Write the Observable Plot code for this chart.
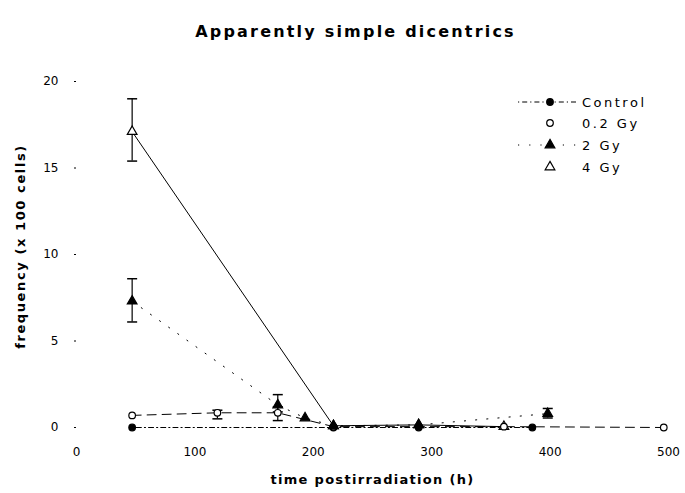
<!DOCTYPE html>
<html>
<head>
<meta charset="utf-8">
<script src="https://cdn.jsdelivr.net/npm/d3@7"></script>
<script src="https://cdn.jsdelivr.net/npm/@observablehq/plot@0.6"></script>
<style>
  html, body { margin: 0; padding: 0; background: #fff; }
  #wrap { position: relative; width: 685px; height: 493px; font-family: "DejaVu Sans", Arial, sans-serif; }
  #legend { position: absolute; left: 0; top: 0; pointer-events: none; }
</style>
</head>
<body>
<div id="wrap"></div>
<script>
// ---- data ----
const title = "Apparently simple dicentrics";
const xLabel = "time postirradiation (h)";
const yLabel = "frequency (x 100 cells)";
const xTicks = [0, 100, 200, 300, 400, 500];
const yTicks = [0, 5, 10, 15, 20];

const seriesNames = ["Control", "0.2 Gy", "2 Gy", "4 Gy"];

const timesControl = [47, 217, 289, 385];
const freqControl  = [0, 0, 0, 0];

const times02 = [47, 119, 170, 217, 361, 496];
const freq02  = [0.7, 0.85, 0.85, 0.05, 0.05, 0];

const times2 = [47, 170, 193, 217, 289, 398];
const freq2  = [7.3, 1.3, 0.55, 0.1, 0.15, 0.8];

const times4 = [47, 217, 289, 361];
const freq4  = [17.1, 0.1, 0.15, 0.05];

// error bars
const errSeries = ["4 Gy", "2 Gy", "0.2 Gy", "0.2 Gy", "2 Gy", "2 Gy"];
const errTimes  = [47, 47, 119, 170, 170, 398];
const errLow    = [15.4, 6.1, 0.5, 0.4, 0.9, 0.55];
const errHigh   = [19.0, 8.6, 1.0, 1.2, 1.9, 1.1];

// ---- build tables ----
const mk = (name, ts, fs) => ts.map((t, i) => ({series: name, t, f: fs[i]}));
const dControl = mk("Control", timesControl, freqControl);
const d02 = mk("0.2 Gy", times02, freq02);
const d2 = mk("2 Gy", times2, freq2);
const d4 = mk("4 Gy", times4, freq4);
const errs = errTimes.map((t, i) => ({series: errSeries[i], t, lo: errLow[i], hi: errHigh[i]}));

const styles = {
  "Control": {dash: "1.2,3,5,3", symbol: "circle", fill: "black", r: 3.3},
  "0.2 Gy":  {dash: "9,6",       symbol: "circle", fill: "white", r: 3.3},
  "2 Gy":    {dash: "1.2,10",    symbol: "triangle", fill: "black", r: 3.6},
  "4 Gy":    {dash: null,        symbol: "triangle", fill: "white", r: 3.6}
};

const cap = { draw(ctx) { ctx.moveTo(-5, 0); ctx.lineTo(5, 0); } };

const font = '"DejaVu Sans", Arial, sans-serif';

const lineMark = (data, name) => Plot.line(data, {
  x: "t", y: "f", stroke: "black", strokeWidth: 1,
  strokeDasharray: styles[name].dash || undefined
});
const dotMark = (data, name) => Plot.dot(data, {
  x: "t", y: "f", symbol: styles[name].symbol, r: styles[name].r,
  fill: styles[name].fill, stroke: "black", strokeWidth: 1.2
});

const chart = Plot.plot({
  width: 685,
  height: 493,
  marginLeft: 76,
  marginRight: 17,
  marginTop: 81,
  marginBottom: 66,
  style: {fontFamily: font, fontSize: "12px", color: "black", background: "white"},
  x: {domain: [0, 500], ticks: xTicks, tickSize: 0, tickPadding: 20, label: null},
  y: {domain: [0, 20], ticks: yTicks, tickSize: 2, tickPadding: 16, label: null},
  marks: [
    lineMark(dControl, "Control"),
    lineMark(d02, "0.2 Gy"),
    lineMark(d2, "2 Gy"),
    lineMark(d4, "4 Gy"),
    Plot.ruleX(errs, {x: "t", y1: "lo", y2: "hi", stroke: "black", strokeWidth: 1.2}),
    Plot.dot(errs, {x: "t", y: "lo", symbol: cap, stroke: "black", fill: "none", strokeWidth: 1.5}),
    Plot.dot(errs, {x: "t", y: "hi", symbol: cap, stroke: "black", fill: "none", strokeWidth: 1.5}),
    dotMark(dControl, "Control"),
    dotMark(d4, "4 Gy"),
    dotMark(d02, "0.2 Gy"),
    dotMark(d2, "2 Gy"),
    Plot.text([title], {frameAnchor: "top", dy: -56, dx: -17, text: d => d,
      fontSize: 16, fontWeight: "bold", fill: "black"}),
    Plot.text([xLabel], {frameAnchor: "bottom", dy: 56, text: d => d,
      fontSize: 13, fontWeight: "bold", fill: "black"}),
    Plot.text([yLabel], {frameAnchor: "left", dx: -56, dy: -8, rotate: -90, textAnchor: "middle",
      text: d => d, fontSize: 13, fontWeight: "bold", fill: "black"})
  ]
});
chart.querySelectorAll("text").forEach(t => {
  if (t.textContent === title) t.setAttribute("letter-spacing", "2.2");
  if (t.textContent === xLabel) t.setAttribute("letter-spacing", "1.3");
  if (t.textContent === yLabel) t.setAttribute("letter-spacing", "1.6");
});
document.getElementById("wrap").appendChild(chart);

// ---- legend overlay ----
const leg = d3.select("#wrap").append("svg").attr("id", "legend")
  .attr("width", 685).attr("height", 493);
const rowY = [102, 123, 145, 167];
const showLine = {"Control": "1.2,3,5,3", "2 Gy": "1.2,10"};
seriesNames.forEach((name, i) => {
  const y = rowY[i];
  const s = styles[name];
  if (showLine[name]) {
    leg.append("line").attr("x1", 518).attr("x2", 578).attr("y1", y).attr("y2", y)
      .attr("stroke", "black").attr("stroke-dasharray", showLine[name]);
  }
  const sym = s.symbol === "circle" ? d3.symbolCircle : d3.symbolTriangle;
  leg.append("path").attr("d", d3.symbol(sym, s.r * s.r * Math.PI)())
    .attr("transform", `translate(550,${y})`)
    .attr("fill", s.fill).attr("stroke", "black").attr("stroke-width", 1.2);
  leg.append("text").attr("x", 582).attr("y", y).attr("dy", "0.35em")
    .attr("font-family", font).attr("font-size", 13).attr("letter-spacing", 2.5)
    .attr("fill", "black").text(name);
});
</script>
</body>
</html>
